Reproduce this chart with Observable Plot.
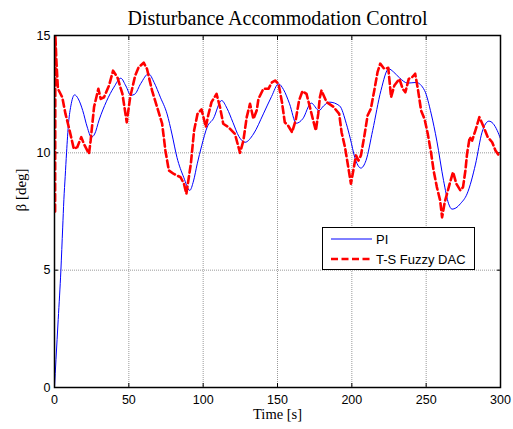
<!DOCTYPE html>
<html>
<head>
<meta charset="utf-8">
<script src="https://cdn.jsdelivr.net/npm/d3@7"></script>
<script src="https://cdn.jsdelivr.net/npm/@observablehq/plot@0.6"></script>
<style>
  html, body { margin: 0; padding: 0; background: #fff; }
  #wrap { position: relative; width: 513px; height: 429px; }
  #legend { position: absolute; left: 322px; top: 227px; width: 153px; height: 43px;
            box-sizing: border-box; border: 1.5px solid #000; background: #fff; }
</style>
</head>
<body>
<div id="wrap"><div id="legend"></div></div>
<script>
const titleText = "Disturbance Accommodation Control";
const xLabel = "Time [s]";
const yLabel = "β [deg]";
const seriesNames = ["PI", "T-S Fuzzy DAC"];
const seriesColors = ["#0000ff", "#ff0000"];
const xTicks = [0, 50, 100, 150, 200, 250, 300];
const yTicks = [0, 5, 10, 15];

const piTime = [0,1,2.5,4.3,5.5,6.3,7.2,8.1,9.5,11,13.5,16,19,22,24.8,27,30,35,40,44.6,48,51.4,54,58,63.3,67,71.2,75.7,79,82.4,86.9,91,93.5,96,99,102.7,106.8,112.4,116,120,124,128.2,133.8,140.5,146,150.7,154,158.1,162.6,167,172.7,177.9,181,185,191.8,196.3,199,201.9,206.1,209.5,214,219.6,224.8,228,232,237.6,243.2,248.9,253.4,257.2,261.7,265.1,267.4,270,273,277.5,283.2,287.6,292.2,295,297.8,300];
const piBeta = [0,1.2,2.9,5,6.8,8,9,10,11.3,12.0,12.47,12.3,11.8,11.1,10.67,10.8,11.4,12.2,12.8,13.18,12.85,12.45,12.5,12.95,13.37,13.0,12.37,11.66,10.8,9.8,8.96,8.4,8.8,9.53,10.3,11.1,11.45,12.23,11.9,11.3,10.7,10.45,10.8,11.66,12.4,12.94,12.7,12.09,11.26,11.45,12.12,11.8,12.0,12.16,12.0,11.24,10.6,9.82,9.35,9.67,10.95,12.66,13.58,13.45,13.2,12.97,13.0,12.66,11.66,10.5,8.82,7.83,7.6,7.65,7.83,8.25,9.52,10.88,11.35,11.25,10.95,10.6];

const dacTime = [0.4,0.6,1.2,2.3,5.2,7.4,9.6,13,15.3,18,19.8,23.2,24.3,26.6,29.5,31.1,33.3,36.7,39.4,42.3,45.7,48.6,50.9,54.3,56.6,60,62.2,65.6,69,72.4,74.6,76.9,80.3,84.8,87.1,88.7,91.7,93.9,96.2,98.9,101.8,103.4,105.6,109,111.3,113.5,116.9,121.4,124.8,127,129.3,131.5,133.8,136,137.2,140.5,143.9,146.2,148.4,150.7,153,154.9,157.1,159.8,162.2,164.5,166.8,169.5,171.8,174,175.8,177.4,178.5,179.6,183,187.5,191.5,193.1,195.4,197.6,199.4,201,202.8,204.5,206.1,208.3,210.6,212.8,215.1,217.3,219.1,221.8,224.5,226.4,228.6,232,234.2,236,238.3,240.5,242.6,244.4,246.6,248.9,251.1,253.4,255,257.2,259.4,260.7,262.5,264,265.8,268.1,270.3,273,274.8,276.4,277.5,279.3,280.9,283.1,285.8,288.7,291.4,294.4,296.6,298.9,300];
const dacBeta = [7.5,15,14,12.73,12.37,11.66,11.1,10.17,10.24,10.67,10.38,9.96,10.52,11.95,12.73,12.3,12.37,12.87,13.5,13.22,12.51,11.3,12.37,13.3,13.65,13.84,13.58,12.66,11.95,11.24,10.1,9.25,9.1,8.96,8.68,8.25,9.53,10.95,11.66,11.85,11.1,11.6,12.16,12.51,11.95,11.24,11.1,10.8,10.0,10.5,11.52,12.09,11.45,11.8,12.3,12.73,12.73,13.0,13.08,12.94,12.16,11.3,11.16,10.88,11.38,12.23,12.63,12.51,11.95,11.38,10.95,11.66,12.37,12.66,12.16,11.97,11.66,10.88,10.24,9.39,8.68,9.25,9.89,9.67,9.89,10.67,11.59,11.88,12.66,13.44,13.8,13.58,13.62,12.37,12.87,13.15,12.73,12.58,13.15,13.22,13.37,12.73,11.8,11.45,10.8,9.96,9.25,8.54,7.97,7.25,7.9,8.25,8.68,9.18,8.68,8.4,8.54,9.25,9.96,10.67,10.52,10.95,11.52,11.1,10.67,10.45,10.1,9.89,9.89];

const pi = piTime.map((t, i) => ({t, b: piBeta[i]}));
const dac = dacTime.map((t, i) => ({t, b: dacBeta[i]}));

const sans = "Liberation Sans, Arial, sans-serif";
const serif = "Liberation Serif, DejaVu Serif, serif";

const chart = Plot.plot({
  width: 513,
  height: 429,
  marginLeft: 54,
  marginRight: 13,
  marginTop: 35,
  marginBottom: 42,
  style: {fontFamily: sans, fontSize: "12px", background: "#fff", overflow: "visible"},
  x: {domain: [0, 300]},
  y: {domain: [0, 15]},
  marks: [
    Plot.gridX(xTicks, {stroke: "#808080", strokeOpacity: 1, strokeWidth: 0.8, strokeDasharray: "1,1"}),
    Plot.gridY(yTicks, {stroke: "#808080", strokeOpacity: 1, strokeWidth: 0.8, strokeDasharray: "1,1"}),
    Plot.axisX(xTicks, {anchor: "bottom", tickSize: -4, tickFormat: () => "", label: null}),
    Plot.axisX(xTicks, {anchor: "top", tickSize: -4, tickFormat: () => "", label: null}),
    Plot.axisY(yTicks, {anchor: "left", tickSize: -4, tickFormat: () => "", label: null}),
    Plot.axisY(yTicks, {anchor: "right", tickSize: -4, tickFormat: () => "", label: null}),
    Plot.axisX(xTicks, {anchor: "bottom", tickSize: 0, tickPadding: 8, label: null, fontSize: 12.5, fill: "#000"}),
    Plot.axisY(yTicks, {anchor: "left", tickSize: 0, tickPadding: 4, label: null, fontSize: 12.5, fill: "#000"}),
    Plot.line(pi, {x: "t", y: "b", stroke: seriesColors[0], strokeWidth: 1, curve: "monotone-x", clip: true}),
    Plot.line(dac, {x: "t", y: "b", stroke: seriesColors[1], strokeWidth: 2.6, strokeDasharray: "7,3.5", curve: "linear", clip: true}),
    Plot.frame({stroke: "#000", strokeWidth: 1.5}),
    Plot.text([titleText], {frameAnchor: "top", dy: -17, fontFamily: serif, fontSize: 20, fill: "#000", lineAnchor: "middle"}),
    Plot.text([xLabel], {frameAnchor: "bottom", dy: 27, fontFamily: serif, fontSize: 14.5, fill: "#000", lineAnchor: "middle"}),
    Plot.text([yLabel], {frameAnchor: "left", dx: -33, rotate: -90, fontFamily: serif, fontSize: 15, fill: "#000", lineAnchor: "middle"})
  ]
});
document.getElementById("wrap").prepend(chart);

// legend
const lg = d3.select("#legend").append("svg").attr("width", 150).attr("height", 40)
  .style("position", "absolute").style("left", "0px").style("top", "0px");
seriesNames.forEach((name, i) => {
  const y = 11 + i * 20;
  lg.append("line").attr("x1", 8).attr("x2", 49).attr("y1", y).attr("y2", y)
    .attr("stroke", seriesColors[i])
    .attr("stroke-width", i === 0 ? 1 : 2.6)
    .attr("stroke-dasharray", i === 0 ? null : "7,3.5");
  lg.append("text").attr("x", 53).attr("y", y).attr("dy", "0.35em")
    .attr("font-family", sans).attr("font-size", 13).attr("fill", "#000").text(name);
});
</script>
</body>
</html>
